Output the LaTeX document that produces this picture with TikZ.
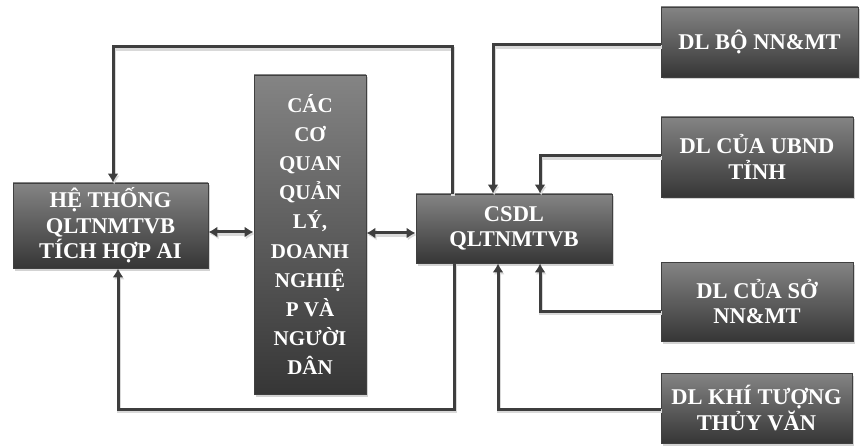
\documentclass[tikz,border=0pt]{standalone}
\usepackage{fontspec}
\setmainfont{Liberation Serif}
\usetikzlibrary{arrows.meta,shadows,calc}
\definecolor{boxtop}{RGB}{132,132,132}
\definecolor{boxbot}{RGB}{54,54,54}
\definecolor{lineclr}{RGB}{62,62,62}
\tikzset{
 box/.style={draw=black!75, line width=0.8pt, top color=boxtop, bottom color=boxbot,
   drop shadow={shadow xshift=1.5pt,shadow yshift=-2.5pt,opacity=0.35},
   text=white, font=\bfseries\fontsize{22.5}{25.5}\selectfont, align=center, inner sep=0pt},
 tallbox/.style={box, font=\bfseries\fontsize{21}{29.2}\selectfont},
 conn/.style={draw=lineclr, line width=3pt,
   preaction={draw=black!15, line width=4pt, transform canvas={shift={(1.2pt,-2pt)}}}},
 tip/.style={-{Latex[length=9pt,width=11pt]}},
 dtip/.style={{Latex[length=9pt,width=11pt]}-{Latex[length=9pt,width=11pt]}},
}
\begin{document}
\begin{tikzpicture}[x=1pt,y=-1pt]
\useasboundingbox (0,0) rectangle (861,446);
% boxes
\node[box, minimum width=195pt, minimum height=85pt] (b1) at (110.5,225.5) {HỆ THỐNG\\QLTNMTVB\\TÍCH HỢP AI};
\node[tallbox, minimum width=112pt, minimum height=319pt] (b2) at (310,234.5) {CÁC\\CƠ\\QUAN\\QUẢN\\LÝ,\\DOANH\\NGHIỆ\\P VÀ\\NGƯỜI\\DÂN};
\node[box, minimum width=196pt, minimum height=69pt] (b3) at (514,228.5) {CSDL\\QLTNMTVB};
\node[box, minimum width=197pt, minimum height=70pt] (b4) at (759.5,42) {DL BỘ NN\&MT};
\node[box, minimum width=192pt, minimum height=80pt] (b5) at (757,157) {DL CỦA UBND\\TỈNH};
\node[box, minimum width=192pt, minimum height=79pt] (b6) at (757,301.5) {DL CỦA SỞ\\NN\&MT};
\node[box, minimum width=191pt, minimum height=70pt] (b7) at (756.5,408) {DL KHÍ TƯỢNG\\THỦY VĂN};
% feedback loops from CSDL to the AI system
\draw[conn,tip] (452,0 |- b3.north) -- (452,47) -- (113,47) -- (113,0 |- b1.north);
\draw[conn,tip] (454,0 |- b3.south) -- (454,409) -- (118,409) -- (118,0 |- b1.south);
% double arrows
\draw[conn,dtip] (b1.east |- 0,232) -- (b2.west |- 0,232);
\draw[conn,dtip] (b2.east |- 0,233) -- (b3.west |- 0,233);
% data sources to CSDL
\draw[conn,tip] (b4.west |- 0,45) -| (493,0 |- b3.north);
\draw[conn,tip] (b5.west |- 0,156) -| (540,0 |- b3.north);
\draw[conn,tip] (b6.west |- 0,311) -| (540,0 |- b3.south);
\draw[conn,tip] (b7.west |- 0,409) -| (498,0 |- b3.south);
\end{tikzpicture}
\end{document}
